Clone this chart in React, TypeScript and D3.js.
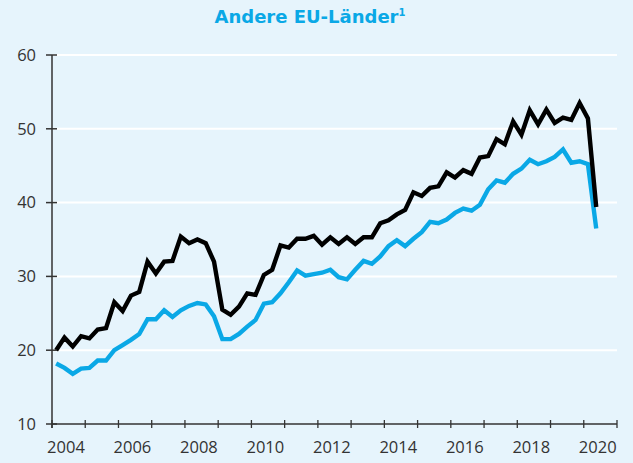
import React from "react";
import * as d3 from "d3";

const startYear = 2004;
const endYear = 2021;
const yearLabels = [2004, 2006, 2008, 2010, 2012, 2014, 2016, 2018, 2020];
const yTicks = [10, 20, 30, 40, 50, 60];
const title = "Andere EU-Länder";

// Quarterly values 2004Q1 .. 2020Q2
const blackSeries = [
  20.0, 21.7, 20.5, 21.9, 21.6, 22.8, 23.0, 26.5, 25.3, 27.4, 27.9, 32.0, 30.4, 32.0, 32.1, 35.4,
  34.5, 35.0, 34.5, 32.0, 25.5, 24.8, 25.9, 27.7, 27.5, 30.2, 30.9, 34.2, 33.9, 35.1, 35.1, 35.5,
  34.3, 35.3, 34.4, 35.3, 34.4, 35.3, 35.3, 37.2, 37.6, 38.4, 39.0, 41.4, 40.9, 42.0, 42.2, 44.1,
  43.4, 44.4, 43.9, 46.1, 46.3, 48.6, 47.9, 51.0, 49.2, 52.5, 50.6, 52.6, 50.8, 51.5, 51.2, 53.5,
  51.4, 39.4,
];
const blueSeries = [
  18.2, 17.6, 16.8, 17.5, 17.6, 18.6, 18.6, 20.0, 20.7, 21.4, 22.2, 24.2, 24.2, 25.4, 24.5, 25.4,
  26.0, 26.4, 26.2, 24.6, 21.5, 21.5, 22.2, 23.2, 24.1, 26.3, 26.5, 27.7, 29.2, 30.8, 30.1, 30.3,
  30.5, 30.9, 29.9, 29.6, 30.9, 32.1, 31.7, 32.7, 34.1, 34.9, 34.1, 35.1, 36.0, 37.4, 37.2, 37.7,
  38.6, 39.2, 38.9, 39.7, 41.8, 43.0, 42.7, 43.9, 44.6, 45.8, 45.2, 45.6, 46.2, 47.2, 45.4, 45.6,
  45.2, 36.5,
];

const W = 633;
const H = 463;
const BG = "#e6f4fc";
const BLUE = "#0aa8e6";
const FONT = "'Open Sans', 'DejaVu Sans', sans-serif";

export default function App() {
  const x = d3.scaleLinear().domain([startYear, endYear]).range([52, 617]);
  const y = d3.scaleLinear().domain([10, 60]).range([424, 55]);
  const t = (i: number) => startYear + (i + 0.5) / 4;
  const line = d3
    .line<number>()
    .x((_, i) => x(t(i)))
    .y((d) => y(d));
  const yearTicks = d3.range(startYear, endYear + 1);

  return (
    <svg
      width={W}
      height={H}
      style={{ position: "absolute", left: 0, top: 0, display: "block" }}
      fontFamily={FONT}
    >
      <rect x={0} y={0} width={W} height={H} fill={BG} />
      <text
        x={310}
        y={23}
        textAnchor="middle"
        fill={BLUE}
        fontSize={18}
        fontWeight="bold"
        fontFamily="'DejaVu Sans', sans-serif"
      >
        {title}
        <tspan fontSize={10} dy={-7}>1</tspan>
      </text>
      {yTicks
        .filter((v) => v > 10)
        .map((v) => (
          <line key={"g" + v} x1={x(startYear)} x2={x(endYear)} y1={y(v)} y2={y(v)} stroke="#ffffff" strokeWidth={2} />
        ))}
      <path d={line(blueSeries) || ""} fill="none" stroke={BLUE} strokeWidth={4.4} strokeLinejoin="miter" strokeMiterlimit={3} />
      <path d={line(blackSeries) || ""} fill="none" stroke="#000000" strokeWidth={4.4} strokeLinejoin="miter" strokeMiterlimit={3} />
      <line x1={x(startYear)} x2={x(startYear)} y1={y(60)} y2={y(10) + 4} stroke="#333" strokeWidth={1.5} />
      <line x1={x(startYear)} x2={x(endYear)} y1={y(10)} y2={y(10)} stroke="#333" strokeWidth={1.5} />
      {yTicks.map((v) => (
        <g key={"y" + v}>
          <line x1={x(startYear) - 6} x2={x(startYear) + 5} y1={y(v)} y2={y(v)} stroke="#333" strokeWidth={1.5} />
          <text x={36} y={y(v)} dy="0.35em" textAnchor="end" fontSize={16.5} fill="#333">
            {v}
          </text>
        </g>
      ))}
      {yearTicks.map((yr) => (
        <line key={"xt" + yr} x1={x(yr)} x2={x(yr)} y1={y(10) - 4} y2={y(10) + 4} stroke="#333" strokeWidth={1.3} />
      ))}
      {yearLabels.map((yr) => (
        <text key={"xl" + yr} x={x(yr + 0.42)} y={453} textAnchor="middle" fontSize={16.5} fill="#333">
          {yr}
        </text>
      ))}
    </svg>
  );
}
